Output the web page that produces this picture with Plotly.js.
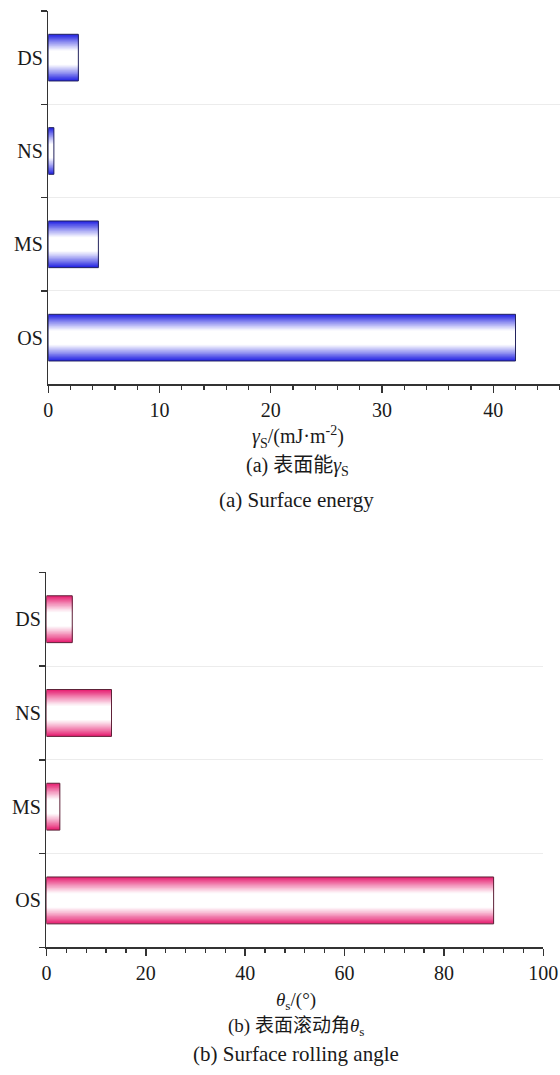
<!DOCTYPE html>
<html>
<head>
<meta charset="utf-8">
<script src="https://cdn.plot.ly/plotly-3.0.1.min.js"></script>
<style>html,body{margin:0;padding:0;background:#fff;}#chart{width:560px;height:1075px;}</style>
</head>
<body>
<div id="chart"></div>
<script>
// ---- data ----
const categories = ['DS', 'NS', 'MS', 'OS'];          // top-to-bottom order
const surfaceEnergy = [2.7, 0.5, 4.5, 42.0];         // γs / (mJ·m^-2)
const rollingAngle = [5.2, 13.1, 2.7, 90.0];         // θs / (°)
const energyTicks = [0, 10, 20, 30, 40];
const angleTicks = [0, 20, 40, 60, 80, 100];
const energyTitle = '<i>γ</i><sub>S</sub>/(mJ·m<sup>-2</sup>)';
const angleTitle = '<i>θ</i><sub>s</sub>/(°)';
const captionA1 = '(a) 表面能<i>γ</i><sub>S</sub>';
const captionA2 = '(a) Surface energy';
const captionB1 = '(b) 表面滚动角<i>θ</i><sub>s</sub>';
const captionB2 = '(b) Surface rolling angle';

// ---- styling helpers ----
const FONT = 'Times New Roman, Liberation Serif, Tinos, DejaVu Serif, serif, Noto Sans CJK SC';
const TXT = '#1a1a1a';
const AX = '#333333';
const BAR_W = 0.5;
const LAYERS = 30;

function intensity(d) {
  // d: 1 at bar edge, 0 at center
  const t = Math.max(0, Math.min(1, (d - 0.3) / 0.7));
  return Math.pow(t, 1.1);
}
function mix(rgb, f) {
  const c = rgb.map(v => Math.round(255 + (v - 255) * f));
  return 'rgb(' + c.join(',') + ')';
}
function gradientBars(values, xa, ya, rgb, lineColor) {
  const traces = [];
  for (let k = 0; k < LAYERS; k++) {
    const d = 1 - k / LAYERS;
    traces.push({
      type: 'bar', orientation: 'h',
      x: values, y: categories, xaxis: xa, yaxis: ya,
      width: BAR_W * d,
      marker: { color: mix(rgb, intensity(d)), line: { width: 0 } },
      hoverinfo: 'skip', showlegend: false
    });
  }
  traces.push({
    type: 'bar', orientation: 'h',
    x: values, y: categories, xaxis: xa, yaxis: ya,
    width: BAR_W,
    marker: { color: 'rgba(0,0,0,0)', line: { width: 1, color: lineColor } },
    hoverinfo: 'skip', showlegend: false
  });
  return traces;
}

const data = []
  .concat(gradientBars(surfaceEnergy, 'x', 'y', [34, 34, 226], '#23235e'))
  .concat(gradientBars(rollingAngle, 'x2', 'y2', [230, 30, 112], '#5e2238'));

const catOrder = categories.slice().reverse();
const boundaries = catOrder.map((c, i) => i - 0.5).concat([catOrder.length - 0.5]);

function xAxis(domain, anchor, range, tickvals, minorD) {
  return {
    domain: domain, anchor: anchor, range: range,
    tickmode: 'array', tickvals: tickvals,
    ticks: 'outside', ticklen: 7, tickwidth: 1.4, tickcolor: AX,
    showline: true, linecolor: AX, linewidth: 1.5,
    showgrid: false, zeroline: false, fixedrange: true,
    tickfont: { family: FONT, size: 20, color: TXT },
    minor: { tickmode: 'linear', tick0: 0, dtick: minorD, ticks: 'outside', ticklen: 4, tickwidth: 1.2, tickcolor: AX, showgrid: false }
  };
}
function yAxis(domain, anchor) {
  return {
    domain: domain, anchor: anchor, type: 'category',
    categoryorder: 'array', categoryarray: catOrder,
    range: [-0.5, catOrder.length - 0.5],
    tickson: 'boundaries', ticks: 'outside', ticklen: 6, tickwidth: 1.4, tickcolor: AX,
    showline: true, linecolor: AX, linewidth: 1.5,
    showgrid: true, gridcolor: '#ececec', gridwidth: 1,
    zeroline: false, fixedrange: true,
    tickfont: { family: FONT, size: 20, color: TXT }
  };
}
function yInner(overlay, anchor) {
  return {
    overlaying: overlay, anchor: anchor, side: 'left', type: 'linear',
    range: [-0.5, catOrder.length - 0.5],
    tickmode: 'array', tickvals: boundaries,
    ticks: 'inside', ticklen: 4, tickwidth: 1.4, tickcolor: AX,
    showticklabels: false, showline: false, showgrid: false, zeroline: false, fixedrange: true
  };
}
function note(text, x, y, size) {
  return { text: text, xref: 'paper', yref: 'paper', x: x, y: y,
    xanchor: 'center', yanchor: 'middle', showarrow: false,
    font: { family: FONT, size: size, color: TXT } };
}

const layout = {
  width: 560, height: 1075,
  margin: { l: 0, r: 0, t: 0, b: 0 },
  paper_bgcolor: '#ffffff', plot_bgcolor: '#ffffff',
  barmode: 'overlay', showlegend: false,
  font: { family: FONT, color: TXT },
  xaxis: xAxis([0.0863, 1.0], 'y', [0, 46], energyTicks, 2),
  yaxis: yAxis([0.6425, 0.9898], 'x'),
  yaxis3: yInner('y', 'x'),
  xaxis2: xAxis([0.0829, 0.9702], 'y2', [0, 100], angleTicks, 4),
  yaxis2: yAxis([0.1188, 0.4676], 'x2'),
  yaxis4: yInner('y2', 'x2'),
  annotations: [
    note(energyTitle, 0.533, 0.5938, 20),
    note(captionA1, 0.531, 0.5659, 20),
    note(captionA2, 0.529, 0.5349, 21),
    note(angleTitle, 0.529, 0.0690, 19),
    note(captionB1, 0.529, 0.0442, 19),
    note(captionB2, 0.529, 0.0200, 21)
  ]
};

Plotly.newPlot('chart', data, layout, { staticPlot: true, displayModeBar: false });
</script>
</body>
</html>
